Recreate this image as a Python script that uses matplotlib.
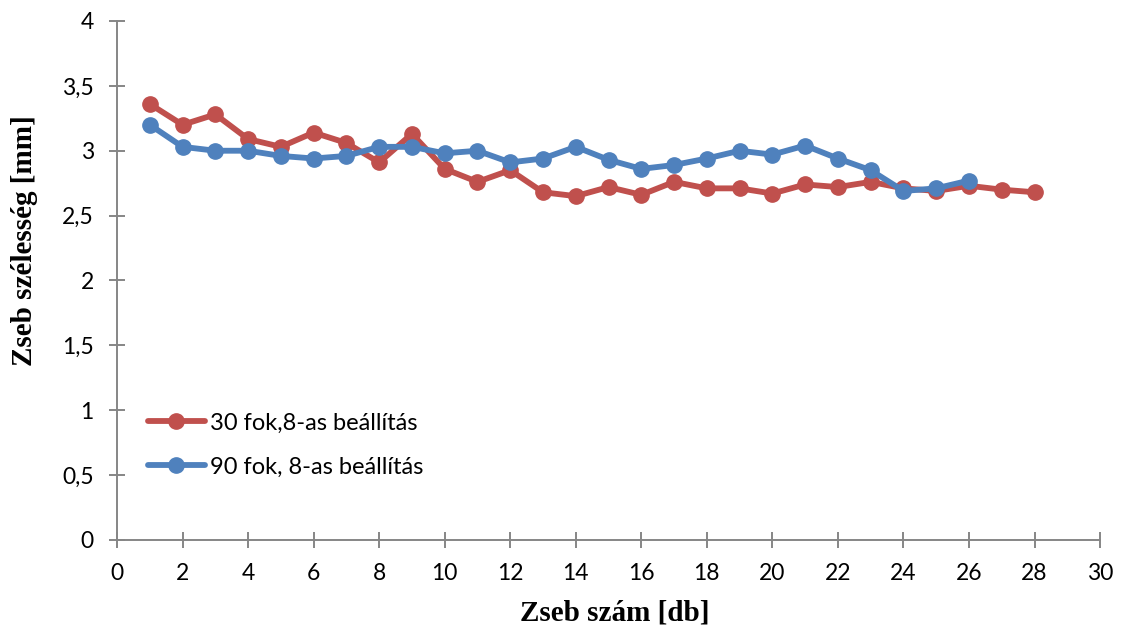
import matplotlib
matplotlib.use("Agg")
import matplotlib.pyplot as plt
from matplotlib.ticker import MultipleLocator, FuncFormatter

x_red = list(range(1, 29))
red = [3.36, 3.20, 3.28, 3.09, 3.03, 3.14, 3.06, 2.91, 3.13, 2.86,
       2.76, 2.85, 2.68, 2.65, 2.72, 2.66, 2.76, 2.71, 2.71, 2.67,
       2.74, 2.72, 2.76, 2.71, 2.69, 2.73, 2.70, 2.68]
x_blue = list(range(1, 27))
blue = [3.20, 3.03, 3.00, 3.00, 2.96, 2.94, 2.96, 3.03, 3.03, 2.98,
        3.00, 2.91, 2.94, 3.03, 2.93, 2.86, 2.89, 2.94, 3.00, 2.97,
        3.04, 2.94, 2.85, 2.69, 2.71, 2.77]
label_red = "30 fok,8-as beállítás"
label_blue = "90 fok, 8-as beállítás"
xlabel = "Zseb szám [db]"
ylabel = "Zseb szélesség [mm]"

fig = plt.figure(figsize=(11.21, 6.32), dpi=100)
ax = fig.add_axes([0.1044, 0.1456, 0.8769, 0.8212])

ax.plot(x_red, red, color="#C0504D", lw=4.2, marker="o", ms=11, label=label_red,
        solid_joinstyle="round", solid_capstyle="round")
ax.plot(x_blue, blue, color="#4F81BD", lw=4.2, marker="o", ms=11, label=label_blue,
        solid_joinstyle="round", solid_capstyle="round")

ax.set_xlim(0, 30)
ax.set_ylim(0, 4)
ax.xaxis.set_major_locator(MultipleLocator(2))
ax.yaxis.set_major_locator(MultipleLocator(0.5))
ax.yaxis.set_major_formatter(FuncFormatter(lambda v, p: ("%g" % v).replace(".", ",")))

for s in ["top", "right"]:
    ax.spines[s].set_visible(False)
for s in ["left", "bottom"]:
    ax.spines[s].set_color("#868686")
    ax.spines[s].set_linewidth(1.4)
ax.tick_params(direction="inout", length=11.5, width=1.4, color="#868686",
               labelsize=16.5, labelcolor="black")
ax.tick_params(axis="x", pad=11)
ax.tick_params(axis="y", pad=11)
for lab in ax.get_xticklabels() + ax.get_yticklabels():
    lab.set_family("Lato")

fig.text(0.5486, 0.030, xlabel, family="Liberation Serif", fontweight="bold",
         fontsize=21, ha="center", va="center")
fig.text(0.0223, 0.620, ylabel, family="Liberation Serif", fontweight="bold",
         fontsize=21, ha="center", va="center", rotation=90)

leg = ax.legend(loc="center left", bbox_to_anchor=(0.0315, 0.183), frameon=False,
                prop={"family": "Lato", "size": 17}, handlelength=2.4,
                labelspacing=0.98, handletextpad=0.22, borderaxespad=0, borderpad=0)

fig.savefig("out.png", dpi=100)
